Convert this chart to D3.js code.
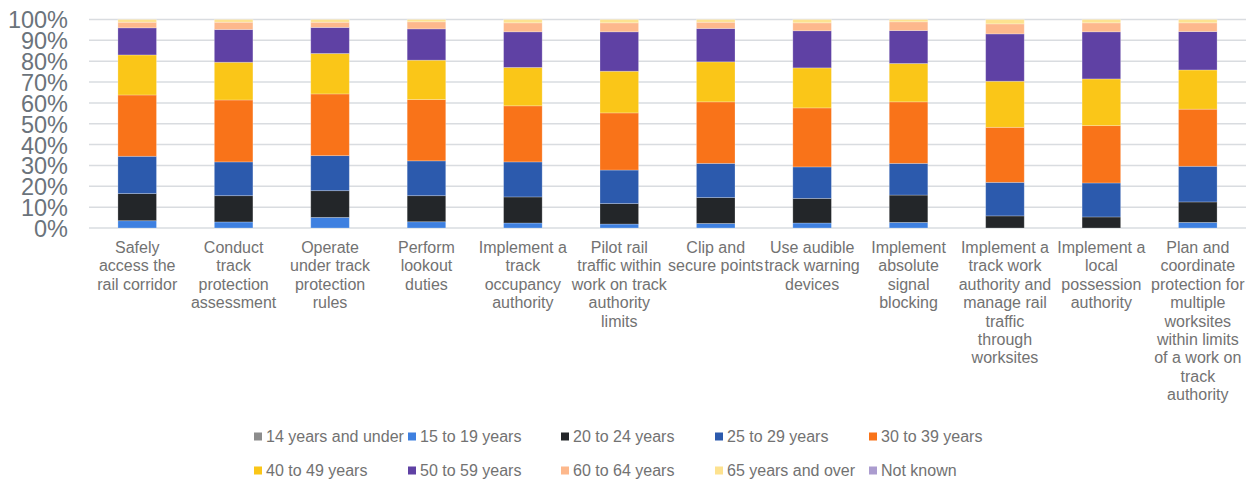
<!DOCTYPE html>
<html>
<head>
<meta charset="utf-8">
<script src="https://cdn.jsdelivr.net/npm/d3@7"></script>
<style>
  html, body { margin: 0; padding: 0; background: #ffffff; }
  svg { display: block; font-family: "Liberation Sans", Arial, sans-serif; }
</style>
</head>
<body>
<svg id="chart" width="1254" height="479"></svg>
<script>
// Task names (line breaks mark where each axis label wraps)
const categories = [
  "Safely\naccess the\nrail corridor",
  "Conduct\ntrack\nprotection\nassessment",
  "Operate\nunder track\nprotection\nrules",
  "Perform\nlookout\nduties",
  "Implement a\ntrack\noccupancy\nauthority",
  "Pilot rail\ntraffic within\nwork on track\nauthority\nlimits",
  "Clip and\nsecure points",
  "Use audible\ntrack warning\ndevices",
  "Implement\nabsolute\nsignal\nblocking",
  "Implement a\ntrack work\nauthority and\nmanage rail\ntraffic\nthrough\nworksites",
  "Implement a\nlocal\npossession\nauthority",
  "Plan and\ncoordinate\nprotection for\nmultiple\nworksites\nwithin limits\nof a work on\ntrack\nauthority"
];

// Share of learners in each age group (%), one value per task
const age14Under  = [0, 0, 0, 0, 0, 0, 0, 0, 0, 0, 0, 0];
const age15to19   = [3.5, 2.9, 5.1, 3.0, 2.4, 1.9, 2.2, 2.4, 2.7, 0, 0, 2.7];
const age20to24   = [13.0, 12.6, 12.8, 12.5, 12.5, 9.8, 12.4, 11.8, 13.1, 5.8, 5.3, 9.8];
const age25to29   = [17.9, 16.2, 16.8, 16.7, 16.8, 16.1, 16.4, 15.1, 15.2, 16.1, 16.3, 17.1];
const age30to39   = [29.4, 29.7, 29.6, 29.4, 26.9, 27.4, 29.5, 28.3, 29.5, 26.4, 27.5, 27.4];
const age40to49   = [19.2, 18.1, 19.4, 18.9, 18.4, 20.0, 19.2, 19.2, 18.4, 22.1, 22.4, 18.8];
const age50to59   = [13.0, 15.7, 12.5, 15.0, 17.1, 18.9, 16.0, 17.8, 15.8, 22.7, 22.6, 18.4];
const age60to64   = [2.7, 3.5, 2.5, 3.4, 4.3, 4.3, 3.0, 3.8, 4.2, 4.8, 4.3, 4.2];
const age65Over   = [1.3, 1.3, 1.3, 1.1, 1.6, 1.6, 1.3, 1.6, 1.1, 2.1, 1.6, 1.6];
const ageNotKnown = [0, 0, 0, 0, 0, 0, 0, 0, 0, 0, 0, 0];

const seriesNames = [
  "14 years and under", "15 to 19 years", "20 to 24 years", "25 to 29 years",
  "30 to 39 years", "40 to 49 years", "50 to 59 years", "60 to 64 years",
  "65 years and over", "Not known"
];
const seriesValues = [
  age14Under, age15to19, age20to24, age25to29, age30to39,
  age40to49, age50to59, age60to64, age65Over, ageNotKnown
];
const seriesColors = [
  "#8c8c8c", "#3e80e0", "#232629", "#2c5aad", "#f97319",
  "#fac618", "#5f41a4", "#fdb88c", "#fde28f", "#ab9ccf"
];

const yTicks = [0, 10, 20, 30, 40, 50, 60, 70, 80, 90, 100];

// Build rows for the stack layout
const rows = categories.map((c, i) => {
  const r = { category: c };
  seriesNames.forEach((s, j) => { r[s] = seriesValues[j][i]; });
  return r;
});
const stacked = d3.stack().keys(seriesNames)(rows);

const svg = d3.select("#chart");
const plot = { left: 89, right: 1246, top: 19.5, bottom: 228 };

const x = d3.scaleBand()
  .domain(categories)
  .range([plot.left, plot.right])
  .paddingInner(0.6)
  .paddingOuter(0.3);

const y = d3.scaleLinear()
  .domain([0, 100])
  .range([plot.bottom, plot.top]);

const color = d3.scaleOrdinal().domain(seriesNames).range(seriesColors);

// Horizontal gridlines
svg.append("g")
  .selectAll("line")
  .data(yTicks)
  .join("line")
  .attr("x1", plot.left)
  .attr("x2", plot.right)
  .attr("y1", d => y(d))
  .attr("y2", d => y(d))
  .attr("stroke", "#d9dce0")
  .attr("stroke-width", 1.5);

// Y axis labels
const yAxis = d3.axisLeft(y)
  .tickValues(yTicks)
  .tickFormat(d => d + "%")
  .tickSize(0)
  .tickPadding(0);
const yg = svg.append("g")
  .attr("transform", `translate(68,0)`)
  .call(yAxis);
yg.select(".domain").remove();
yg.selectAll("text")
  .attr("font-family", "'Liberation Sans', Arial, sans-serif")
  .attr("font-size", 23.5)
  .attr("fill", "#6b737b")
  .attr("dy", "0.36em");

// Stacked bars
svg.append("g")
  .selectAll("g")
  .data(stacked)
  .join("g")
  .attr("fill", d => color(d.key))
  .selectAll("rect")
  .data(d => d)
  .join("rect")
  .attr("x", d => x(d.data.category))
  .attr("width", x.bandwidth())
  .attr("y", d => y(d[1]))
  .attr("height", d => Math.max(0, y(d[0]) - y(d[1])))
  .attr("stroke", "#ffffff")
  .attr("stroke-opacity", d => (d[1] - d[0]) > 0 ? 0.3 : 0)
  .attr("stroke-width", 0.8);

// Category labels under the bars
const xg = svg.append("g");
categories.forEach(c => {
  const t = xg.append("text")
    .attr("x", x(c) + x.bandwidth() / 2)
    .attr("y", 253)
    .attr("text-anchor", "middle")
    .attr("font-size", 16)
    .attr("fill", "#727272");
  c.split("\n").forEach((line, k) => {
    t.append("tspan")
      .attr("x", x(c) + x.bandwidth() / 2)
      .attr("dy", k === 0 ? 0 : 18.4)
      .text(line);
  });
});

// Legend: two rows of five entries
const legendCols = [254, 408, 561, 715, 869];
const legendRows = [436.5, 470.5];
const legend = svg.append("g")
  .selectAll("g")
  .data(seriesNames)
  .join("g")
  .attr("transform", (d, i) => `translate(${legendCols[i % 5]},${legendRows[Math.floor(i / 5)]})`);
legend.append("rect")
  .attr("x", 0)
  .attr("y", -4)
  .attr("width", 8)
  .attr("height", 8)
  .attr("fill", d => color(d));
legend.append("text")
  .attr("x", 12)
  .attr("y", 0)
  .attr("dy", "0.35em")
  .attr("font-size", 16)
  .attr("fill", "#727272")
  .text(d => d);
</script>
</body>
</html>
